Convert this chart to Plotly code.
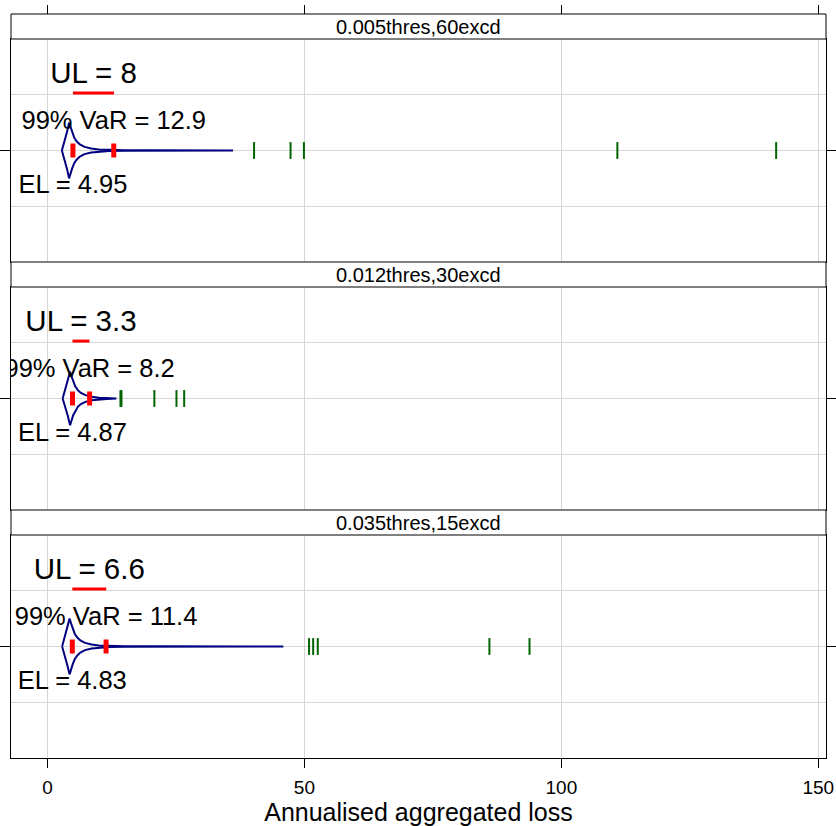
import plotly.graph_objects as go

# ---- data -------------------------------------------------------------
strip_labels = ["0.005thres,60excd", "0.012thres,30excd", "0.035thres,15excd"]
el_values = [4.95, 4.87, 4.83]          # expected loss
var_values = [12.9, 8.2, 11.4]          # 99% value at risk
ul_values = [8, 3.3, 6.6]               # unexpected loss = VaR - EL

# simulated annual losses beyond the violin (drawn as rug ticks)
outliers_1 = [40.2, 47.3, 49.9, 110.9, 141.8]
outliers_2 = [14.2, 14.4, 20.8, 25.1, 26.6]
outliers_3 = [50.9, 51.7, 52.6, 86.0, 93.8]

# violin profiles: loss value and density half-width
violin_loss_1 = [2.8, 3.3, 3.8, 4.2, 4.5, 4.8, 5.2, 5.7, 6.3, 7.2, 8.5, 10, 12, 15, 20, 28, 36.1]
violin_dens_1 = [0, 0.16, 0.33, 0.5, 0.41, 0.32, 0.23, 0.16, 0.11, 0.065, 0.035, 0.02, 0.01, 0.005, 0.003, 0.002, 0]
violin_loss_2 = [2.95, 3.45, 3.95, 4.4, 4.7, 5.0, 5.4, 5.9, 6.5, 7.4, 8.6, 10, 11.5, 13.4]
violin_dens_2 = [0, 0.15, 0.31, 0.48, 0.39, 0.3, 0.22, 0.15, 0.1, 0.06, 0.03, 0.015, 0.007, 0]
violin_loss_3 = [2.85, 3.35, 3.85, 4.3, 4.6, 4.9, 5.3, 5.8, 6.4, 7.3, 8.6, 10, 12, 15, 20, 30, 45.9]
violin_dens_3 = [0, 0.16, 0.33, 0.5, 0.41, 0.32, 0.23, 0.16, 0.11, 0.065, 0.035, 0.02, 0.01, 0.005, 0.003, 0.002, 0]

x_ticks = [0, 50, 100, 150]
x_title = "Annualised aggregated loss"

outliers = [outliers_1, outliers_2, outliers_3]
violins = [(violin_loss_1, violin_dens_1), (violin_loss_2, violin_dens_2), (violin_loss_3, violin_dens_3)]

# ---- layout geometry ----------------------------------------------------
W, H = 836, 826
M_L, M_R, M_T, M_B = 11, 10, 14, 68
PLOT_H = H - M_T - M_B
STRIP_PX, PANEL_PX = 25, 223
X_RANGE = [-7.1, 151.5]
Y_RANGE = [0, 4]
FONT = "Liberation Sans, Arial, sans-serif"
GRID = "#d6d6d6"
VIOLIN_COL = "#000080"
RED = "#ff0000"
GREEN = "#006400"


def to_paper(px):
    return (H - M_B - px) / PLOT_H


fig = go.Figure()
shapes, annotations = [], []

for k in range(3):
    n = k + 1
    xa = "x" if n == 1 else f"x{n}"
    ya = "y" if n == 1 else f"y{n}"
    strip_top = M_T + k * (STRIP_PX + PANEL_PX)
    panel_top = strip_top + STRIP_PX
    panel_bot = panel_top + PANEL_PX

    loss, dens = violins[k]
    upper = [2 + d for d in dens]
    lower = [2 - d for d in dens]
    fig.add_trace(go.Scatter(
        x=loss + loss[::-1], y=upper + lower[::-1],
        mode="lines", line=dict(color=VIOLIN_COL, width=2),
        xaxis=xa, yaxis=ya, showlegend=False, hoverinfo="skip"))

    # outlying losses as a rug
    fig.add_trace(go.Scatter(
        x=outliers[k], y=[2] * len(outliers[k]), mode="markers",
        marker=dict(symbol="line-ns-open", size=12, color=GREEN,
                    line=dict(color=GREEN, width=2)),
        xaxis=xa, yaxis=ya, showlegend=False, hoverinfo="skip"))

    el, var, ul = el_values[k], var_values[k], ul_values[k]

    # EL and VaR markers
    fig.add_trace(go.Scatter(
        x=[el, var], y=[2, 2], mode="markers",
        marker=dict(symbol="line-ns-open", size=10, color=RED,
                    line=dict(color=RED, width=5)),
        xaxis=xa, yaxis=ya, showlegend=False, hoverinfo="skip"))

    # UL bar from EL to EL + UL
    fig.add_trace(go.Scatter(
        x=[el, el + ul], y=[3.03, 3.03], mode="lines",
        line=dict(color=RED, width=3),
        xaxis=xa, yaxis=ya, showlegend=False, hoverinfo="skip"))

    # labels (clipped to the panel)
    fig.add_trace(go.Scatter(
        x=[el + ul / 2], y=[3.35], mode="text", text=[f"UL = {ul:g}"],
        textposition="middle center", textfont=dict(family=FONT, size=29.5, color="black"),
        cliponaxis=True, xaxis=xa, yaxis=ya, showlegend=False, hoverinfo="skip"))
    fig.add_trace(go.Scatter(
        x=[var], y=[2.5], mode="text", text=[f"99% VaR = {var:g}"],
        textposition="middle center", textfont=dict(family=FONT, size=25.5, color="black"),
        cliponaxis=True, xaxis=xa, yaxis=ya, showlegend=False, hoverinfo="skip"))
    fig.add_trace(go.Scatter(
        x=[el], y=[1.35], mode="text", text=[f"EL = {el:g}"],
        textposition="middle center", textfont=dict(family=FONT, size=25.5, color="black"),
        cliponaxis=True, xaxis=xa, yaxis=ya, showlegend=False, hoverinfo="skip"))

    xaxis = dict(
        range=X_RANGE, tickvals=x_ticks, showgrid=True, gridcolor=GRID, gridwidth=1,
        zeroline=False, showline=True, linecolor="black", linewidth=1, mirror=True,
        anchor=ya, domain=[0, 1], automargin=False,
        ticks="", showticklabels=False,
    )
    if n == 3:
        xaxis.update(
            ticks="outside", ticklen=9, tickwidth=1, tickcolor="black",
            showticklabels=True, ticklabelstandoff=3,
            tickfont=dict(family=FONT, size=19, color="black"),
            title=dict(text=x_title, font=dict(family=FONT, size=25, color="black"), standoff=7),
        )
    yaxis = dict(
        range=Y_RANGE, tickvals=[2], ticks="outside", ticklen=11, tickwidth=1,
        tickcolor="black", showticklabels=False, showgrid=True, gridcolor=GRID, gridwidth=1,
        minor=dict(tickvals=[1, 3], showgrid=True, gridcolor=GRID, gridwidth=1, ticks=""),
        zeroline=False, showline=True, linecolor="black", linewidth=1, mirror="ticks",
        anchor=xa, domain=[to_paper(panel_bot), to_paper(panel_top)], automargin=False,
    )
    fig.update_layout(**{("xaxis" if n == 1 else f"xaxis{n}"): xaxis,
                         ("yaxis" if n == 1 else f"yaxis{n}"): yaxis})

    # strip header
    shapes.append(dict(type="rect", xref="paper", yref="paper", x0=0, x1=1,
                       y0=to_paper(panel_top), y1=to_paper(strip_top),
                       line=dict(color="black", width=1), fillcolor="white", layer="above"))
    annotations.append(dict(text=strip_labels[k], xref="paper", yref="paper", x=0.5,
                            y=(to_paper(panel_top) + to_paper(strip_top)) / 2,
                            showarrow=False, xanchor="center", yanchor="middle",
                            font=dict(family=FONT, size=20, color="black")))

# top tick marks above the first strip
fig.add_trace(go.Scatter(x=[0], y=[-10], mode="markers", marker=dict(opacity=0),
                         xaxis="x4", yaxis="y", showlegend=False, hoverinfo="skip"))
fig.update_layout(xaxis4=dict(
    range=X_RANGE, tickvals=x_ticks, overlaying="x", anchor="free", position=1, side="top",
    ticks="outside", ticklen=9, tickwidth=1, tickcolor="black", showticklabels=False,
    showgrid=False, zeroline=False, showline=False, automargin=False))

fig.update_layout(
    width=W, height=H,
    margin=dict(l=M_L, r=M_R, t=M_T, b=M_B, autoexpand=False),
    paper_bgcolor="white", plot_bgcolor="white",
    shapes=shapes, annotations=annotations,
    showlegend=False,
)

fig.write_html("out.html")
